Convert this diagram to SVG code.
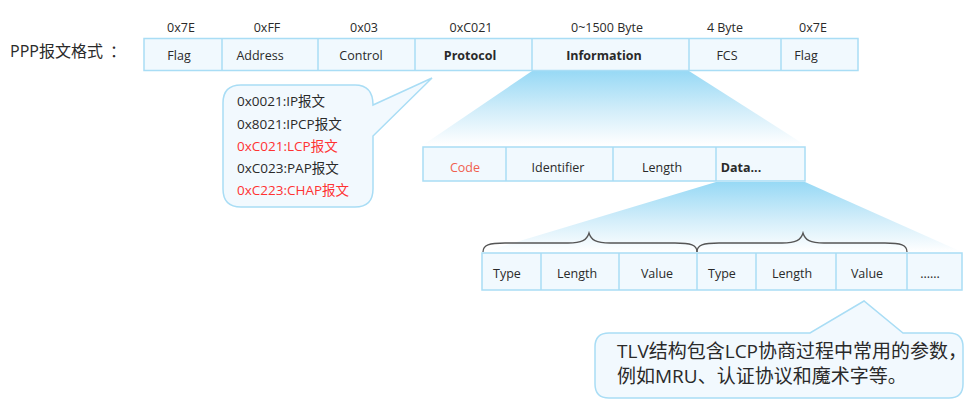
<svg xmlns="http://www.w3.org/2000/svg" width="978" height="406" viewBox="0 0 978 406">
<defs>
<linearGradient id="g1" x1="0" y1="0" x2="0" y2="1">
<stop offset="0" stop-color="#97d9f5"/>
<stop offset="0.55" stop-color="#d4eefa"/>
<stop offset="1" stop-color="#ffffff"/>
</linearGradient>
<style>
text{font-family:"Open Sans","Noto Sans CJK SC",sans-serif;fill:#2a2a2a;}
.cell{fill:#f1f9fe;stroke:#a9ddf5;stroke-width:1.5;}
.t{font-size:12.5px;text-anchor:middle;}
.b{font-weight:bold;}
.red{fill:#ff3333;}
.bub{fill:#f2f9fe;stroke:#a9ddf5;stroke-width:1.5;}
.brace{fill:none;stroke:#555;stroke-width:1.3;}
</style>
</defs>
<rect width="978" height="406" fill="#fff"/>

<g id="connectors">
<polygon points="532,71 689,71 805,145 423,145" fill="url(#g1)"/>
<polygon points="716,182 805,182 962,252 483,252" fill="url(#g1)"/>
</g>

<g id="title">
<text x="10" y="57" style="font-size:16px">PPP报文格式<tspan x="110">：</tspan></text>
</g>

<g id="ppp-frame">
<text x="181" y="32" class="t">0x7E</text>
<text x="267" y="32" class="t">0xFF</text>
<text x="364" y="32" class="t">0x03</text>
<text x="471" y="32" class="t">0xC021</text>
<text x="607" y="32" class="t">0~1500 Byte</text>
<text x="725" y="32" class="t">4 Byte</text>
<text x="813" y="32" class="t">0x7E</text>
<rect class="cell" x="144" y="38.5" width="714" height="32"/>
<line class="cell" x1="222" y1="38.5" x2="222" y2="70.5"/>
<line class="cell" x1="318" y1="38.5" x2="318" y2="70.5"/>
<line class="cell" x1="415" y1="38.5" x2="415" y2="70.5"/>
<line class="cell" x1="532" y1="38.5" x2="532" y2="70.5"/>
<line class="cell" x1="689" y1="38.5" x2="689" y2="70.5"/>
<line class="cell" x1="781" y1="38.5" x2="781" y2="70.5"/>
<text x="179" y="60" class="t">Flag</text>
<text x="260" y="60" class="t">Address</text>
<text x="361" y="60" class="t">Control</text>
<text x="470" y="60" class="t b">Protocol</text>
<text x="604" y="60" class="t b">Information</text>
<text x="727" y="60" class="t">FCS</text>
<text x="806" y="60" class="t">Flag</text>
</g>

<g id="protocol-callout">
<path class="bub" d="M241,85 L355,85 Q373,85 373,105 L432,78 L373,136 L373,189 Q373,207 355,207 L241,207 Q223,207 223,189 L223,103 Q223,85 241,85 Z"/>
<g style="font-size:13.5px">
<text x="237" y="106">0x0021:IP报文</text>
<text x="237" y="129">0x8021:IPCP报文</text>
<text x="237" y="151" class="red">0xC021:LCP报文</text>
<text x="237" y="173">0xC023:PAP报文</text>
<text x="237" y="195" class="red">0xC223:CHAP报文</text>
</g>
</g>

<g id="lcp-packet">
<rect class="cell" x="423" y="147" width="382" height="34"/>
<line class="cell" x1="506" y1="147" x2="506" y2="181"/>
<line class="cell" x1="613" y1="147" x2="613" y2="181"/>
<line class="cell" x1="716" y1="147" x2="716" y2="181"/>
<text x="465" y="172" class="t" style="fill:#f0604f">Code</text>
<text x="558" y="172" class="t">Identifier</text>
<text x="662" y="172" class="t">Length</text>
<text x="741" y="172" class="t b">Data...</text>
</g>

<g id="tlv-row">
<path class="brace" d="M483,252 C483,245 489,243 505,243 L568,243 C582,243 587,240 589,233 C591,240 596,243 610,243 L675,243 C691,243 697,245 697,252"/>
<path class="brace" d="M697,252 C697,245 703,243 719,243 L782,243 C796,243 801,240 803,233 C805,240 810,243 824,243 L885,243 C901,243 907,245 907,252"/>
<rect class="cell" x="482" y="253" width="480" height="37"/>
<line class="cell" x1="541" y1="253" x2="541" y2="290"/>
<line class="cell" x1="619" y1="253" x2="619" y2="290"/>
<line class="cell" x1="697" y1="253" x2="697" y2="290"/>
<line class="cell" x1="756" y1="253" x2="756" y2="290"/>
<line class="cell" x1="836" y1="253" x2="836" y2="290"/>
<line class="cell" x1="907" y1="253" x2="907" y2="290"/>
<text x="507" y="278" class="t">Type</text>
<text x="577" y="278" class="t">Length</text>
<text x="657" y="278" class="t">Value</text>
<text x="722" y="278" class="t">Type</text>
<text x="792" y="278" class="t">Length</text>
<text x="867" y="278" class="t">Value</text>
<text x="930" y="278" class="t">......</text>
</g>

<g id="tlv-callout">
<path class="bub" d="M609,333 L810,333 L864,301 L903,333 L949,333 Q963,333 963,347 L963,384 Q963,398 949,398 L609,398 Q595,398 595,384 L595,347 Q595,333 609,333 Z"/>
<text x="617" y="358" style="font-size:19px">TLV结构包含LCP协商过程中常用的参数，</text>
<text x="617" y="383" style="font-size:19px">例如MRU、认证协议和魔术字等。</text>
</g>
</svg>
